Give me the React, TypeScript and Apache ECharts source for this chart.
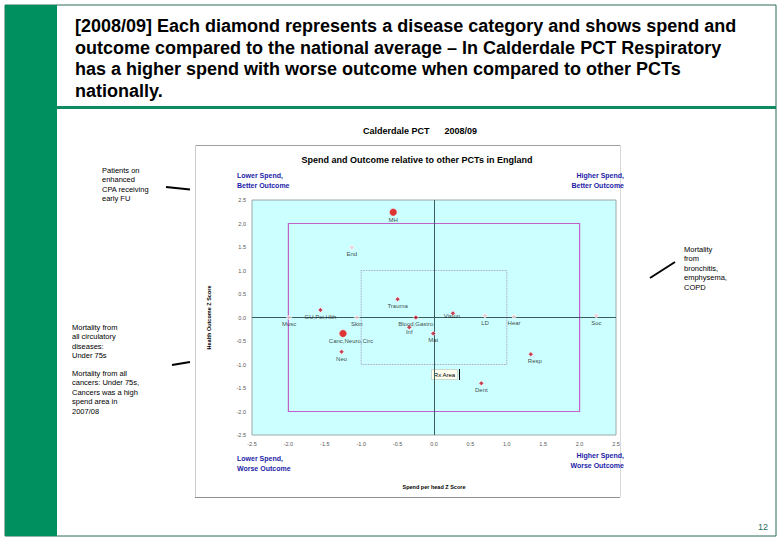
import React, { useEffect, useRef } from "react";
import * as echarts from "echarts";

const categories = ["MH", "End", "Trauma", "GU,Poi,Hlth", "Musc", "Skin", "Blood,Gastro", "Inf", "Mat", "Vision", "LD", "Hear", "Soc", "Resp", "Dent", "Canc,Neuro,Circ", "Neo"];
const spendZ = [-0.56, -1.13, -0.5, -1.56, -1.99, -1.06, -0.25, -0.34, -0.01, 0.26, 0.7, 1.1, 2.23, 1.33, 0.65, -1.25, -1.27];
const outcomeZ = [2.24, 1.49, 0.39, 0.16, 0.0, 0.0, 0.0, -0.21, -0.34, 0.09, 0.04, 0.02, 0.04, -0.78, -1.4, -0.34, -0.73];
const highlighted = ["MH", "Canc,Neuro,Circ"];
const paleMarkers = ["End", "Musc", "Skin", "LD", "Hear", "Soc"];
const axisTicks = [-2.5, -2.0, -1.5, -1.0, -0.5, 0.0, 0.5, 1.0, 1.5, 2.0, 2.5];

const titleLines = [
  "[2008/09] Each diamond represents a disease category and shows spend and",
  "outcome compared to the national average \u2013 In Calderdale PCT Respiratory",
  "has a higher spend with worse outcome when compared to other PCTs",
  "nationally.",
];

const labelOffsets: Record<string, number[]> = {
  Vision: [-1, -4],
  Inf: [0, -2],
  Resp: [4, 0],
  "Canc,Neuro,Circ": [8, 0],
};

const FONT = "Liberation Sans, Arial, sans-serif";
const BLUE = "#1c1ca8";

export default function App() {
  const ref = useRef<HTMLDivElement>(null);
  useEffect(() => {
    if (!ref.current) return;
    const chart = echarts.init(ref.current, undefined, { renderer: "svg" });

    const points = categories.map((name, i) => {
      const big = highlighted.includes(name);
      const pale = paleMarkers.includes(name);
      return {
        name,
        value: [spendZ[i], outcomeZ[i]],
        symbol: big ? "circle" : "diamond",
        symbolSize: big ? 7 : 5,
        itemStyle: big
          ? { color: "#e00000", borderColor: "#ff6060", borderWidth: 0.5 }
          : pale
          ? { color: "#f0c8d0", borderColor: "#ffffff", borderWidth: 0.8 }
          : { color: "#c0102a", borderColor: "#ffffff", borderWidth: 0.8 },
        label: { offset: labelOffsets[name] || [0, 0] },
      };
    });

    const annot = (x: number, y: number, lines: string[], lh = 9.5) =>
      lines.map((t, k) => ({
        type: "text",
        x,
        y: y + k * lh,
        style: { text: t, font: `7.5px ${FONT}`, fill: "#000" },
      }));

    const graphics: any[] = [
      // slide frame
      { type: "rect", shape: { x: 5, y: 5, width: 771, height: 531 }, style: { fill: "none", stroke: "#2a6a5a", lineWidth: 1 } },
      { type: "rect", shape: { x: 5, y: 5, width: 52, height: 531 }, style: { fill: "#009060" } },
      { type: "line", shape: { x1: 57, y1: 107.5, x2: 776, y2: 107.5 }, style: { stroke: "#0f8a62", lineWidth: 3 } },
      ...titleLines.map((t, k) => ({
        type: "text",
        x: 75,
        y: 17 + k * 21.7,
        style: { text: t, font: `bold 18px ${FONT}`, fill: "#000" },
      })),
      // chart frame
      { type: "line", shape: { x1: 195, y1: 145.5, x2: 620, y2: 145.5 }, style: { stroke: "#a0a0a0", lineWidth: 1 } },
      { type: "line", shape: { x1: 195.5, y1: 145, x2: 195.5, y2: 497 }, style: { stroke: "#cccccc", lineWidth: 1 } },
      { type: "line", shape: { x1: 620.5, y1: 145, x2: 620.5, y2: 497 }, style: { stroke: "#d8d8d8", lineWidth: 1 } },
      { type: "line", shape: { x1: 195, y1: 497.5, x2: 620, y2: 497.5 }, style: { stroke: "#909090", lineWidth: 1 } },
      { type: "text", x: 420, y: 131, style: { text: "Calderdale PCT      2008/09", font: `bold 9px ${FONT}`, fill: "#000", align: "center", verticalAlign: "middle" } },
      { type: "text", x: 417, y: 160, style: { text: "Spend and Outcome relative to other PCTs in England", font: `bold 9px ${FONT}`, fill: "#000", align: "center", verticalAlign: "middle" } },
      // quadrant labels
      { type: "text", x: 237, y: 175, style: { text: "Lower Spend,", font: `bold 7px ${FONT}`, fill: BLUE, verticalAlign: "middle" } },
      { type: "text", x: 237, y: 185, style: { text: "Better Outcome", font: `bold 7px ${FONT}`, fill: BLUE, verticalAlign: "middle" } },
      { type: "text", x: 624, y: 175, style: { text: "Higher Spend,", font: `bold 7px ${FONT}`, fill: BLUE, align: "right", verticalAlign: "middle" } },
      { type: "text", x: 624, y: 185, style: { text: "Better Outcome", font: `bold 7px ${FONT}`, fill: BLUE, align: "right", verticalAlign: "middle" } },
      { type: "text", x: 237, y: 458, style: { text: "Lower Spend,", font: `bold 7px ${FONT}`, fill: BLUE, verticalAlign: "middle" } },
      { type: "text", x: 237, y: 468.5, style: { text: "Worse Outcome", font: `bold 7px ${FONT}`, fill: BLUE, verticalAlign: "middle" } },
      { type: "text", x: 624, y: 455, style: { text: "Higher Spend,", font: `bold 7px ${FONT}`, fill: BLUE, align: "right", verticalAlign: "middle" } },
      { type: "text", x: 624, y: 465.5, style: { text: "Worse Outcome", font: `bold 7px ${FONT}`, fill: BLUE, align: "right", verticalAlign: "middle" } },
      // Rx area box
      { type: "rect", shape: { x: 431.5, y: 369.5, width: 26, height: 10 }, style: { fill: "#fffff0", stroke: "#b0b0b0", lineWidth: 0.5 } },
      { type: "text", x: 444.5, y: 374.5, style: { text: "Rx Area", font: `6px ${FONT}`, fill: "#000", align: "center", verticalAlign: "middle" } },
      { type: "line", shape: { x1: 459.5, y1: 369, x2: 459.5, y2: 380 }, style: { stroke: "#000", lineWidth: 1 } },
      // annotations
      ...annot(102, 166, ["Patients on", "enhanced", "CPA receiving", "early FU"]),
      { type: "line", shape: { x1: 166, y1: 187, x2: 190, y2: 189.5 }, style: { stroke: "#000", lineWidth: 2 } },
      ...annot(72, 323, ["Mortality from", "all circulatory", "diseases:", "Under 75s"]),
      { type: "line", shape: { x1: 172, y1: 365, x2: 190, y2: 362 }, style: { stroke: "#000", lineWidth: 2 } },
      ...annot(72, 369, ["Mortality from all", "cancers: Under 75s,", "Cancers was a high", "spend area in", "2007/08"]),
      ...annot(684, 245, ["Mortality", "from", "bronchitis,", "emphysema,", "COPD"]),
      { type: "line", shape: { x1: 650, y1: 278, x2: 675, y2: 262 }, style: { stroke: "#000", lineWidth: 2 } },
      { type: "text", x: 758, y: 527, style: { text: "12", font: `9px ${FONT}`, fill: "#1e6e60", verticalAlign: "middle" } },
    ];

    const tickFmt = (v: number) => (axisTicks.includes(v) ? v.toFixed(1) : "");

    chart.setOption({
      animation: false,
      backgroundColor: "#ffffff",
      grid: {
        left: 252,
        top: 200,
        width: 364,
        height: 235,
        show: true,
        backgroundColor: "#ccffff",
        borderColor: "#9aa8a8",
        borderWidth: 1,
      },
      xAxis: {
        type: "value",
        min: -2.5,
        max: 2.5,
        interval: 0.5,
        axisLine: { show: false },
        axisTick: { show: false },
        splitLine: { show: false },
        axisLabel: { formatter: tickFmt, fontSize: 5.5, color: "#555", margin: 6, fontFamily: FONT },
        name: "Spend per head Z Score",
        nameLocation: "middle",
        nameGap: 49,
        nameTextStyle: { fontSize: 5.5, fontWeight: "bold", color: "#000", fontFamily: FONT },
      },
      yAxis: {
        type: "value",
        min: -2.5,
        max: 2.5,
        interval: 0.5,
        axisLine: { show: false },
        axisTick: { show: false },
        splitLine: { show: false },
        axisLabel: { formatter: tickFmt, fontSize: 5.5, color: "#555", margin: 6, fontFamily: FONT },
        name: "Health Outcome Z Score",
        nameLocation: "middle",
        nameGap: 40,
        nameRotate: 90,
        nameTextStyle: { fontSize: 5.5, fontWeight: "bold", color: "#000", fontFamily: FONT },
      },
      graphic: graphics,
      series: [
        {
          type: "scatter",
          data: points,
          z: 5,
          label: {
            show: true,
            position: "bottom",
            distance: 1,
            formatter: "{b}",
            fontSize: 6,
            color: "#111",
            fontFamily: FONT,
          },
          markArea: {
            silent: true,
            data: [
              [
                { xAxis: -2, yAxis: 2, itemStyle: { color: "rgba(0,0,0,0)", borderColor: "#c060c8", borderWidth: 1.2 } },
                { xAxis: 2, yAxis: -2 },
              ],
              [
                { xAxis: -1, yAxis: 1, itemStyle: { color: "rgba(0,0,0,0)", borderColor: "#a080b0", borderWidth: 0.8, borderType: "dotted" } },
                { xAxis: 1, yAxis: -1 },
              ],
            ],
          },
          markLine: {
            silent: true,
            symbol: ["none", "none"],
            label: { show: false },
            lineStyle: { color: "#3a5c5c", width: 1, type: "solid" },
            data: [{ xAxis: 0 }, { yAxis: 0 }],
          },
        },
      ],
    });
    return () => chart.dispose();
  }, []);

  return (
    <div
      ref={ref}
      style={{ position: "absolute", left: 0, top: 0, width: 780, height: 540 }}
    />
  );
}
